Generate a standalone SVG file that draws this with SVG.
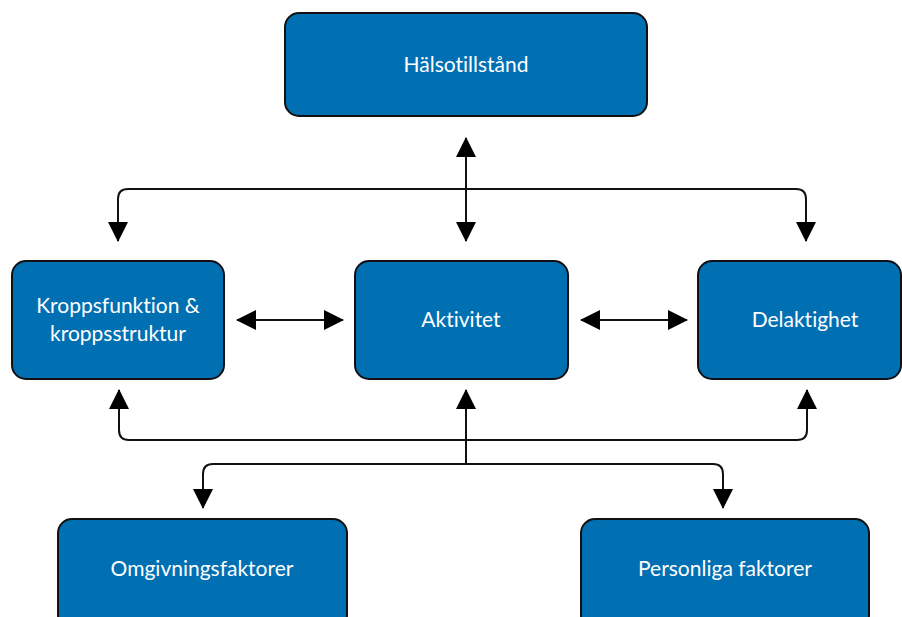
<svg xmlns="http://www.w3.org/2000/svg" width="902" height="617" viewBox="0 0 902 617">
<defs>
<style>
.box{fill:#0070b3;stroke:#111;stroke-width:2}
.lbl{fill:#fff;font-family:"Lato","Liberation Sans",sans-serif;font-size:21px;text-anchor:middle;font-variant-ligatures:none}
.ln{fill:none;stroke:#111;stroke-width:2}
</style>
<marker id="ah" viewBox="0 0 20 20" refX="19" refY="10" markerWidth="20" markerHeight="20" markerUnits="userSpaceOnUse" orient="auto-start-reverse">
<path d="M0,0 L20,10 L0,20 Z" fill="#000"/>
</marker>
</defs>
<rect width="902" height="617" fill="#fff"/>
<g id="connectors">
<path class="ln" d="M466,138 V241" marker-start="url(#ah)" marker-end="url(#ah)"/>
<path class="ln" d="M118,241 V199 Q118,189 128,189 H796 Q806,189 806,199 V241" marker-start="url(#ah)" marker-end="url(#ah)"/>
<path class="ln" d="M237,320 H343" marker-start="url(#ah)" marker-end="url(#ah)"/>
<path class="ln" d="M581,320 H687" marker-start="url(#ah)" marker-end="url(#ah)"/>
<path class="ln" d="M119,390 V430 Q119,440 129,440 H797 Q807,440 807,430 V390" marker-start="url(#ah)" marker-end="url(#ah)"/>
<path class="ln" d="M466,464 V390" marker-end="url(#ah)"/>
<path class="ln" d="M203,508 V474 Q203,464 213,464 H713 Q723,464 723,474 V508" marker-start="url(#ah)" marker-end="url(#ah)"/>
</g>
<g id="halsotillstand">
<rect class="box" x="285" y="13" width="362" height="103" rx="14"/>
<text class="lbl" x="466" y="72">Hälsotillstånd</text>
</g>
<g id="kroppsfunktion">
<rect class="box" x="12" y="261" width="212" height="118" rx="14"/>
<text class="lbl" x="118" y="313">Kroppsfunktion &amp;</text>
<text class="lbl" x="118" y="341">kroppsstruktur</text>
</g>
<g id="aktivitet">
<rect class="box" x="355" y="261" width="213" height="118" rx="14"/>
<text class="lbl" x="461" y="327">Aktivitet</text>
</g>
<g id="delaktighet">
<rect class="box" x="698" y="261" width="203" height="118" rx="14"/>
<text class="lbl" x="805" y="327">Delaktighet</text>
</g>
<g id="omgivningsfaktorer">
<rect class="box" x="58" y="519" width="289" height="110" rx="14"/>
<text class="lbl" x="202" y="576">Omgivningsfaktorer</text>
</g>
<g id="personliga">
<rect class="box" x="581" y="519" width="288" height="110" rx="14"/>
<text class="lbl" x="725" y="576">Personliga faktorer</text>
</g>
</svg>
